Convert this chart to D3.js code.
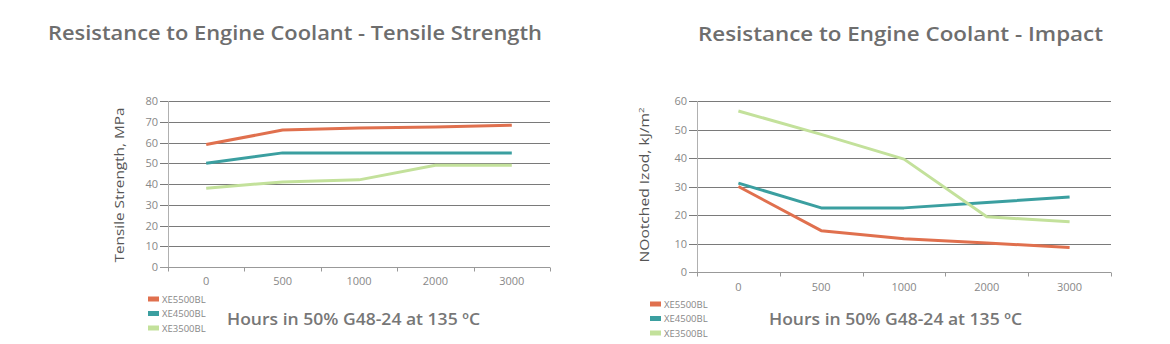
<!DOCTYPE html>
<html>
<head>
<meta charset="utf-8">
<script src="https://cdn.jsdelivr.net/npm/d3@7/dist/d3.min.js"></script>
<style>
  html, body { margin: 0; padding: 0; background: #fff; }
  svg { display: block; }
  text { font-family: "Open Sans", "Noto Sans", sans-serif; }
</style>
</head>
<body>
<svg id="chart" width="1170" height="344"></svg>
<script>
// Exposure time categories (hours)
const hours = ["0", "500", "1000", "2000", "3000"];
const seriesNames = ["XE5500BL", "XE4500BL", "XE3500BL"];
const seriesColors = ["#e0704e", "#3b9fa0", "#c3e19b"];

// Tensile strength, MPa
const tensile5500 = [59, 66, 67, 67.5, 68.3];
const tensile4500 = [50, 55, 55, 55, 55];
const tensile3500 = [38, 41, 42, 49, 49];
const tensileTicks = [0, 10, 20, 30, 40, 50, 60, 70, 80];

// Notched Izod impact, kJ/m²
const impact5500 = [30, 14.5, 11.7, 10.2, 8.6];
const impact4500 = [31.2, 22.5, 22.5, 24.4, 26.3];
const impact3500 = [56.5, 48.3, 39.6, 19.4, 17.6];
const impactTicks = [0, 10, 20, 30, 40, 50, 60];

const xTitle = "Hours in 50% G48-24 at 135 ºC";

const svg = d3.select("#chart");

function drawPanel(cfg) {
  const g = svg.append("g");
  const x = d3.scaleBand().domain(hours).range([cfg.x0, cfg.x1]);
  const y = d3.scaleLinear().domain([0, cfg.ymax]).range([cfg.yBottom, cfg.yTop]);

  // Title
  g.append("text")
    .attr("x", cfg.titleX).attr("y", cfg.titleY)
    .attr("font-size", 20).attr("font-weight", 600).attr("fill", "#6e6e6e")
    .attr("textLength", cfg.titleW).attr("lengthAdjust", "spacingAndGlyphs")
    .text(cfg.title);

  // Horizontal gridlines
  g.append("g").selectAll("line").data(cfg.ticks.filter(t => t > 0)).join("line")
    .attr("x1", cfg.x0 - 8).attr("x2", cfg.x1)
    .attr("y1", d => Math.round(y(d)) + 0.5).attr("y2", d => Math.round(y(d)) + 0.5)
    .attr("stroke", "#7a7a7a").attr("stroke-width", 1);

  // Y axis labels
  const yAxis = d3.axisLeft(y).tickValues(cfg.ticks).tickSize(0).tickPadding(0);
  const ya = g.append("g").attr("transform", `translate(${cfg.x0 - 10},0)`).call(yAxis);
  ya.select(".domain").remove();
  ya.selectAll("text").attr("font-size", 11).attr("fill", "#888")
    .attr("font-family", "'Open Sans', sans-serif");

  // Vertical axis line
  g.append("line")
    .attr("x1", cfg.x0 + 0.5).attr("x2", cfg.x0 + 0.5)
    .attr("y1", cfg.yTop).attr("y2", cfg.yBottom)
    .attr("stroke", "#b0b0b0");

  // Baseline with category ticks
  const base = Math.round(y(0)) + 0.5;
  g.append("line").attr("x1", cfg.x0 - 8).attr("x2", cfg.x1)
    .attr("y1", base).attr("y2", base).attr("stroke", "#999");
  const bounds = hours.map(h => x(h)).concat([cfg.x1]);
  g.append("g").selectAll("line").data(bounds).join("line")
    .attr("x1", d => Math.round(d) + 0.5).attr("x2", d => Math.round(d) + 0.5)
    .attr("y1", base).attr("y2", base + 4).attr("stroke", "#999");

  // X labels
  g.append("g").selectAll("text").data(hours).join("text")
    .attr("x", d => x(d) + x.bandwidth() / 2).attr("y", cfg.xLabelY)
    .attr("text-anchor", "middle").attr("font-size", 11).attr("fill", "#888")
    .text(d => d);

  // Y axis title
  g.append("text")
    .attr("transform", `translate(${cfg.yTitleX},${cfg.yTitleCy}) rotate(-90)`)
    .attr("text-anchor", "middle").attr("font-size", 13).attr("fill", "#555")
    .attr("textLength", 155).attr("lengthAdjust", "spacingAndGlyphs")
    .html(cfg.yTitle);

  // Series lines
  const line = d3.line()
    .x((d, i) => x(hours[i]) + x.bandwidth() / 2)
    .y(d => y(d));
  cfg.series.forEach((vals, i) => {
    g.append("path").datum(vals)
      .attr("d", line).attr("fill", "none")
      .attr("stroke", seriesColors[i]).attr("stroke-width", 3)
      .attr("stroke-linejoin", "round");
  });

  // Legend
  seriesNames.forEach((name, i) => {
    const ly = cfg.legendY + i * 14.5;
    g.append("rect").attr("x", cfg.legendX).attr("y", ly - 2.5)
      .attr("width", 11).attr("height", 5).attr("fill", seriesColors[i]);
    g.append("text").attr("x", cfg.legendX + 14).attr("y", ly + 3.5)
      .attr("font-size", 9.5).attr("fill", "#888").text(name);
  });

  // X axis title
  g.append("text")
    .attr("x", cfg.xTitleX).attr("y", cfg.xTitleY)
    .attr("font-size", 16.5).attr("font-weight", 600).attr("fill", "#777")
    .attr("textLength", 253).attr("lengthAdjust", "spacingAndGlyphs")
    .text(xTitle);
}

drawPanel({
  title: "Resistance to Engine Coolant - Tensile Strength",
  titleX: 48, titleY: 40, titleW: 494,
  x0: 168, x1: 550, yTop: 101, yBottom: 267, ymax: 80,
  ticks: tensileTicks, xLabelY: 285,
  yTitle: "Tensile Strength, MPa", yTitleX: 124, yTitleCy: 185,
  series: [tensile5500, tensile4500, tensile3500],
  legendX: 148, legendY: 299,
  xTitleX: 227, xTitleY: 325
});

drawPanel({
  title: "Resistance to Engine Coolant - Impact",
  titleX: 698, titleY: 41, titleW: 405,
  x0: 697, x1: 1111, yTop: 101, yBottom: 272, ymax: 60,
  ticks: impactTicks, xLabelY: 291,
  yTitle: "NOotched Izod, kJ/m<tspan baseline-shift='super' font-size='8'>2</tspan>", yTitleX: 649, yTitleCy: 185,
  series: [impact5500, impact4500, impact3500],
  legendX: 650, legendY: 304,
  xTitleX: 769, xTitleY: 325
});
</script>
</body>
</html>
